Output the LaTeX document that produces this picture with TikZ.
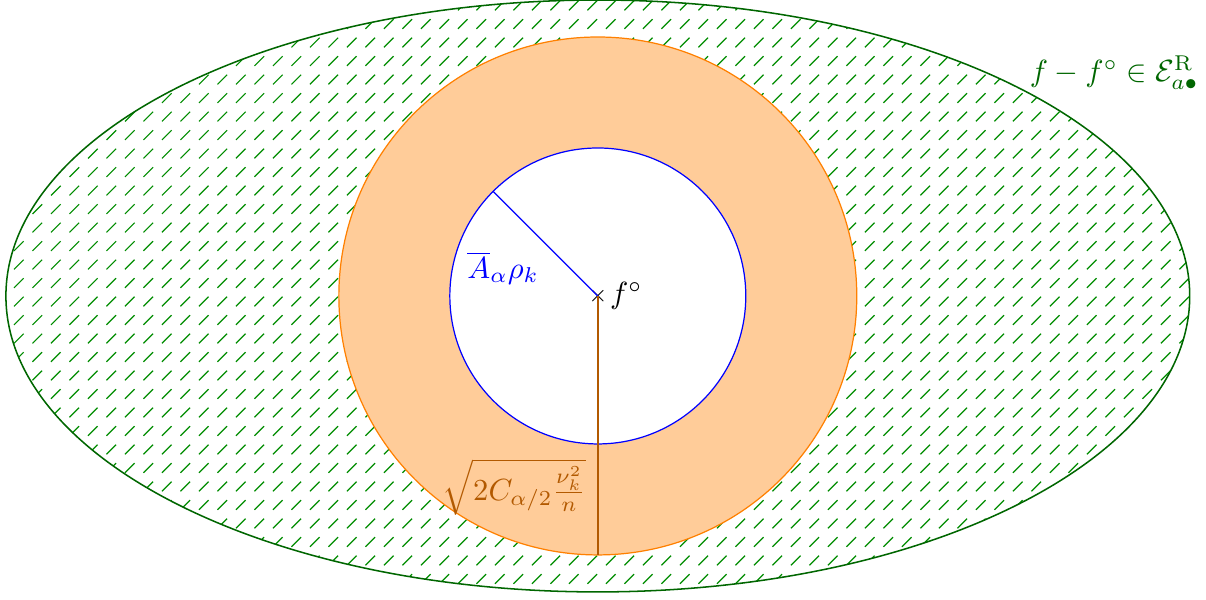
\documentclass[tikz,border=0pt]{standalone}
\usepackage{amsmath,amssymb}
\usetikzlibrary{positioning}
\begin{document}
\begin{tikzpicture}[x=1.7cm, y=1.7cm,
          hatch/.style={green!55!black, line width=0.4pt},
          setline/.style={green!40!black, line width=0.5pt},
          ballfill/.style={fill=orange!40, draw=orange},
          innerball/.style={fill=white, draw=blue},
          radlab/.style={orange!70!black}]
        \useasboundingbox (-4.04,-2.05) rectangle (4.11,2.0);
        % Dashed hatching of the ellipse, clipped to its outline.
        \begin{scope}
          \clip (0,0) ellipse (4 and 2);
          \foreach \i in {-33,...,32} {
            \foreach \j in {-17,...,16} {
              \draw[hatch] ({0.055+0.125*\i},{0.055+0.125*\j}) -- ++(0.065,0.065);
            }
          }
        \end{scope}
        \draw[setline] (0,0) ellipse (4 and 2);
        \filldraw[ballfill] (0,0) circle (1.75);
        \filldraw[innerball] (0,0) circle (1);
        \coordinate (bluetip) at (135:1);
        \coordinate (orangetip) at (0,-1.75);
        \node[inner sep=0pt, font=\scriptsize] (fo) at (0,0) {$\times$};
        \draw[blue] (fo.center) -- (bluetip);
        \draw[radlab, line width=0.5pt] (fo.center) -- (orangetip);
        \node[right=0pt of fo, inner sep=0.5pt] (folab) {$f^\circ$};
        \node[blue] (alab) at (-0.64,0.19) {$\overline{A}_\alpha\rho_k$};
        \node[radlab, anchor=east] (rlab) at (-0.01,-1.29) {$\sqrt{2C_{\alpha/2}\frac{\nu_k^2}{n}}$};
        \node[green!40!black] (setlab) at (3.49,1.51) {$f-f^\circ\in\mathcal{E}^{\mathrm{R}}_{a\bullet}$};
      \end{tikzpicture}
\end{document}
